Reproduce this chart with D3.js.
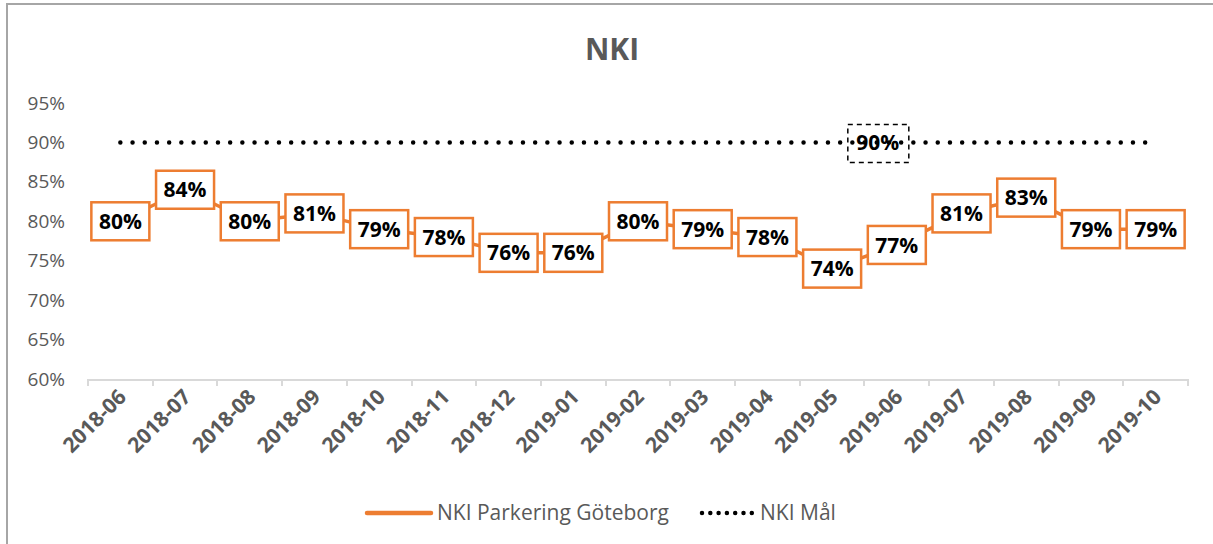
<!DOCTYPE html>
<html lang="sv">
	<head>
		<meta charset="utf-8">
		<title>NKI</title>
		<script type="text/javascript" src="https://cdn.jsdelivr.net/npm/d3@7"></script>
		<style type="text/css">
			body { margin: 0; background: #fff; }
			svg { display: block; font-family: "Open Sans", "Noto Sans", sans-serif; }
			.axis path, .axis line { stroke: #d9d9d9; stroke-width: 2; shape-rendering: crispEdges; }
			.y.axis path, .y.axis line { stroke: none; }
			.axis text { fill: #595959; font-family: "Open Sans", "Noto Sans", sans-serif; }
		</style>
	</head>
	<body>
		<script type="text/javascript">
			// data
			var months = ["2018-06", "2018-07", "2018-08", "2018-09", "2018-10", "2018-11", "2018-12",
				"2019-01", "2019-02", "2019-03", "2019-04", "2019-05", "2019-06", "2019-07",
				"2019-08", "2019-09", "2019-10"];
			var nkiValues = [80, 84, 80, 81, 79, 78, 76, 76, 80, 79, 78, 74, 77, 81, 83, 79, 79];
			var goalValues = [90, 90, 90, 90, 90, 90, 90, 90, 90, 90, 90, 90, 90, 90, 90, 90, 90];
			var yTicks = [60, 65, 70, 75, 80, 85, 90, 95];
			var goalLabelMonth = "2019-06";
			var seriesNames = ["NKI Parkering Göteborg", "NKI Mål"];

			var w = 1213;
			var h = 544;
			var orange = "#ed7d31";

			var svg = d3.select("body")
				.append("svg")
				.attr("width", w)
				.attr("height", h);

			// chart border (only top and left visible)
			svg.append("rect")
				.attr("x", 7).attr("y", 4)
				.attr("width", 1300).attr("height", 700)
				.attr("fill", "none")
				.attr("stroke", "#a6a6a6")
				.attr("stroke-width", 2);

			svg.append("text")
				.attr("x", 612).attr("y", 60)
				.attr("text-anchor", "middle")
				.attr("font-size", "30px")
				.attr("font-weight", "bold")
				.attr("fill", "#595959")
				.text("NKI");

			var xScale = d3.scaleBand()
				.domain(months)
				.range([88, 1188]);

			var yScale = d3.scaleLinear()
				.domain([60, 95])
				.range([379, 103]);

			var cx = function(m) { return xScale(m) + xScale.bandwidth() / 2; };

			// y axis
			var yAxis = d3.axisLeft(yScale)
				.tickValues(yTicks)
				.tickSize(0)
				.tickPadding(23)
				.tickFormat(function(d) { return d + "%"; });

			svg.append("g")
				.attr("class", "y axis")
				.attr("transform", "translate(88,0)")
				.call(yAxis)
				.attr("font-family", null)
				.attr("font-size", "19px");

			// x axis with ticks at band edges
			var xAxis = d3.axisBottom(xScale).tickSize(0).tickSizeOuter(0).tickFormat("");
			var xg = svg.append("g")
				.attr("class", "x axis")
				.attr("transform", "translate(0,379)")
				.call(xAxis)
				.attr("font-family", null);

			var edges = months.map(function(m) { return xScale(m); }).concat([xScale.range()[1]]);
			xg.selectAll(".edge")
				.data(edges)
				.enter()
				.append("line")
				.attr("x1", function(d) { return d; })
				.attr("x2", function(d) { return d; })
				.attr("y1", 0)
				.attr("y2", 7);

			xg.selectAll(".lbl")
				.data(months)
				.enter()
				.append("text")
				.attr("transform", function(d) { return "translate(" + (cx(d) + 2) + ",14) rotate(-45)"; })
				.attr("text-anchor", "end")
				.attr("dy", "0.35em")
				.attr("font-size", "21px")
				.attr("font-weight", "bold")
				.text(function(d) { return d; });

			// goal line
			var goalLine = d3.line()
				.x(function(d, i) { return cx(months[i]); })
				.y(function(d) { return yScale(d); });

			svg.append("path")
				.datum(goalValues)
				.attr("d", goalLine)
				.attr("fill", "none")
				.attr("stroke", "#000")
				.attr("stroke-width", 4.5)
				.attr("stroke-linecap", "round")
				.attr("stroke-dasharray", "0 12.2");

			// NKI series
			var nkiLine = d3.line()
				.x(function(d, i) { return cx(months[i]); })
				.y(function(d) { return yScale(d); });

			svg.append("path")
				.datum(nkiValues)
				.attr("d", nkiLine)
				.attr("fill", "none")
				.attr("stroke", orange)
				.attr("stroke-width", 3.5)
				.attr("stroke-linejoin", "round");

			var labels = svg.selectAll(".dl")
				.data(nkiValues)
				.enter()
				.append("g")
				.attr("transform", function(d, i) { return "translate(" + cx(months[i]) + "," + yScale(d) + ")"; });

			labels.append("rect")
				.attr("x", -29).attr("y", -19)
				.attr("width", 58).attr("height", 38)
				.attr("fill", "#fff")
				.attr("stroke", orange)
				.attr("stroke-width", 2.5);

			labels.append("text")
				.attr("text-anchor", "middle")
				.attr("dy", "0.36em")
				.attr("font-size", "21px")
				.attr("font-weight", "bold")
				.attr("fill", "#000")
				.text(function(d) { return d + "%"; });

			// goal label
			var gi = months.indexOf(goalLabelMonth);
			var gl = svg.append("g")
				.attr("transform", "translate(" + (cx(goalLabelMonth) - 19) + "," + yScale(goalValues[gi]) + ")");
			gl.append("rect")
				.attr("x", -30).attr("y", -18)
				.attr("width", 61).attr("height", 38)
				.attr("fill", "none")
				.attr("stroke", "#000")
				.attr("stroke-width", 1.5)
				.attr("stroke-dasharray", "5,4");
			gl.append("text")
				.attr("text-anchor", "middle")
				.attr("dy", "0.36em")
				.attr("font-size", "21px")
				.attr("font-weight", "bold")
				.attr("fill", "#000")
				.text(goalValues[gi] + "%");

			// legend
			var legend = svg.append("g").attr("transform", "translate(0,513)");
			legend.append("line")
				.attr("x1", 367).attr("x2", 431)
				.attr("stroke", orange)
				.attr("stroke-width", 4.5)
				.attr("stroke-linecap", "round");
			legend.append("text")
				.attr("x", 437).attr("dy", "0.35em")
				.attr("font-size", "21px")
				.attr("fill", "#595959")
				.text(seriesNames[0]);
			legend.append("line")
				.attr("x1", 702).attr("x2", 752)
				.attr("stroke", "#000")
				.attr("stroke-width", 4.5)
				.attr("stroke-linecap", "round")
				.attr("stroke-dasharray", "0 8.3");
			legend.append("text")
				.attr("x", 760).attr("dy", "0.35em")
				.attr("font-size", "21px")
				.attr("fill", "#595959")
				.text(seriesNames[1]);
		</script>
	</body>
</html>
